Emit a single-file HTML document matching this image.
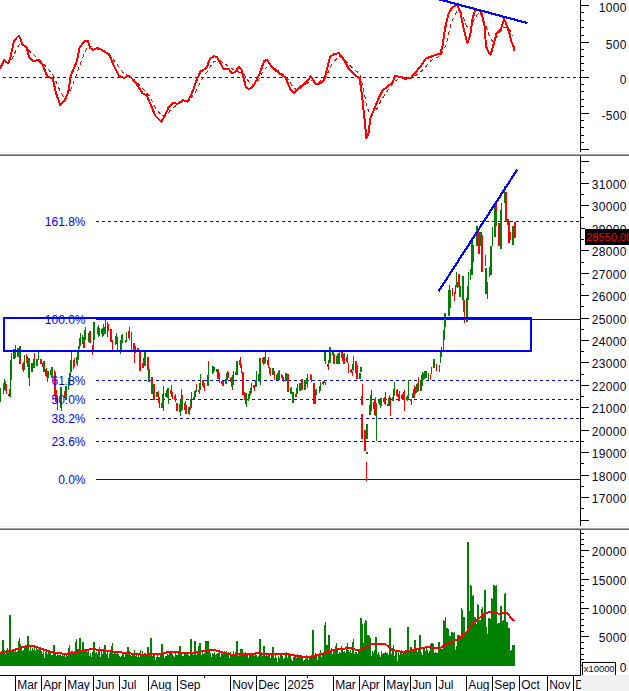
<!DOCTYPE html>
<html><head><meta charset="utf-8"><title>Chart</title>
<style>html,body{margin:0;padding:0;background:#fff;overflow:hidden}svg{display:block}</style>
</head><body>
<svg width="629" height="691" viewBox="0 0 629 691" font-family="'Liberation Sans', Arial, sans-serif">
<rect width="629" height="691" fill="#fff"/>
<!-- MACD panel -->
<line x1="3" y1="77.5" x2="580" y2="77.5" stroke="#0000ff" stroke-dasharray="3 3" shape-rendering="crispEdges"/>
<polyline points="11.7,60.0 14.7,53.3 17.2,47.7 20.0,44.0 24.0,46.0 30.4,51.8 36.0,56.9 42.6,62.4 47.6,68.5 52.7,74.6 55.2,79.7 57.8,85.7 60.0,90.8 63.0,96.0 66.0,97.5 71.3,88.2 77.5,71.7 84.7,52.0 88.9,45.8 95.0,48.0 109.5,54.0 116.8,64.4 124.0,73.7 128.0,75.8 133.3,79.0 141.5,87.2 149.8,96.5 156.0,109.0 162.2,116.0 166.3,115.0 172.5,107.8 180.8,102.7 189.0,100.6 195.3,92.3 201.5,80.0 207.7,70.6 213.9,61.3 220.0,60.3 228.4,66.5 236.6,71.7 242.8,72.7 249.0,82.0 253.0,85.0 257.0,82.3 263.0,71.5 269.0,64.4 276.0,69.2 285.8,76.3 293.0,87.0 297.7,90.6 304.9,84.7 312.0,79.9 319.0,82.3 326.3,76.3 332.3,63.2 339.4,56.0 345.4,60.8 352.6,68.0 359.7,73.9 363.3,88.2 366.9,107.3 370.4,114.5 375.2,112.0 381.2,100.2 388.3,89.4 395.5,81.0 399.8,77.5 409.3,78.2 416.5,75.1 423.6,69.2 430.8,60.8 440.3,56.0 446.3,44.1 451.0,23.8 457.0,10.7 461.8,13.1 466.5,26.2 470.0,28.6 474.9,17.9 479.7,11.9 484.4,21.5 489.2,35.8 492.8,41.7 497.5,35.8 503.5,27.4 508.3,27.4 513.0,35.8" fill="none" stroke="#ff0000" stroke-width="1" stroke-dasharray="4 3" shape-rendering="crispEdges"/>
<polyline points="0.0,68.6 4.1,60.3 8.3,63.4 10.7,56.2 14.0,40.7 19.0,35.5 22.7,44.8 26.5,46.9 29.0,57.2 33.0,60.9 38.2,60.3 42.4,64.4 47.5,76.8 52.7,78.3 55.8,92.3 60.0,104.7 65.0,99.6 68.2,92.3 70.7,75.8 76.5,62.4 79.6,47.9 83.7,41.7 87.8,40.7 90.0,47.9 93.0,50.0 97.0,47.9 103.4,50.6 109.5,55.1 113.7,65.5 118.9,75.8 124.0,77.9 129.0,75.4 135.3,82.0 142.6,93.4 146.7,95.4 150.8,104.7 155.0,115.5 161.2,121.7 164.3,117.0 168.4,107.8 173.0,103.0 177.7,103.7 182.9,100.2 188.0,101.6 192.2,92.3 196.3,81.0 200.4,71.7 206.6,68.0 209.7,59.3 213.9,56.2 217.0,57.2 223.8,69.2 228.4,68.6 232.0,73.3 235.6,71.7 239.0,66.5 241.8,70.6 245.9,87.2 249.0,89.2 253.6,85.9 259.5,73.9 264.3,60.8 267.2,60.1 272.7,68.0 278.6,72.7 285.3,77.5 290.5,89.4 294.0,93.5 300.0,87.0 306.0,82.3 310.8,76.3 315.6,84.0 320.4,83.5 324.4,79.9 327.5,66.8 329.9,57.2 333.5,54.4 338.7,53.0 343.0,58.4 349.0,69.2 353.7,73.9 359.7,78.7 362.0,95.4 364.5,119.2 366.4,138.3 368.5,133.6 370.4,118.0 374.0,109.7 378.8,97.8 382.4,90.6 388.3,85.9 392.6,82.3 395.0,76.3 401.0,76.8 404.5,78.7 410.5,78.2 415.3,72.7 421.2,65.6 426.0,58.4 430.8,56.8 435.5,54.9 440.3,53.7 442.7,45.3 445.0,28.6 448.7,13.1 452.2,7.6 457.0,4.8 460.6,13.1 464.2,31.0 467.3,42.9 470.1,35.8 472.5,19.0 474.9,10.7 479.7,10.0 482.0,14.0 484.0,24.0 485.0,28.0 485.8,46.0 488.0,51.0 490.5,55.0 493.3,45.3 496.4,33.4 501.1,28.6 504.2,19.0 507.1,26.2 509.5,33.4 511.4,41.7 513.5,46.5 514.2,51.3" fill="none" stroke="#ff0000" stroke-width="2" stroke-linejoin="round" shape-rendering="crispEdges"/>
<line x1="437.8" y1="-1" x2="527.4" y2="23.1" stroke="#0000ff" stroke-width="2.2" shape-rendering="crispEdges"/>
<!-- price panel -->
<g shape-rendering="crispEdges">
<line x1="96" y1="221.5" x2="580" y2="221.5" stroke="#0000ff" stroke-width="1" stroke-dasharray="3 3" shape-rendering="crispEdges"/>
<line x1="96" y1="319.5" x2="580" y2="319.5" stroke="#0000ff" stroke-width="1" shape-rendering="crispEdges"/>
<line x1="96" y1="380.5" x2="580" y2="380.5" stroke="#0000ff" stroke-width="1" stroke-dasharray="3 3" shape-rendering="crispEdges"/>
<line x1="96" y1="399.5" x2="580" y2="399.5" stroke="#0000ff" stroke-width="1" stroke-dasharray="3 3" shape-rendering="crispEdges"/>
<line x1="96" y1="418.5" x2="580" y2="418.5" stroke="#0000ff" stroke-width="1" stroke-dasharray="3 3" shape-rendering="crispEdges"/>
<line x1="96" y1="441.5" x2="580" y2="441.5" stroke="#0000ff" stroke-width="1" stroke-dasharray="3 3" shape-rendering="crispEdges"/>
<line x1="96" y1="479.5" x2="580" y2="479.5" stroke="#0000ff" stroke-width="1" shape-rendering="crispEdges"/>
</g>
<g shape-rendering="crispEdges">
<rect x="0" y="388" width="1" height="14" fill="#008000"/>
<rect x="3" y="383" width="1" height="11" fill="#008000"/>
<rect x="4" y="379" width="1" height="11" fill="#008000"/>
<rect x="5" y="381" width="1" height="10" fill="#008000"/>
<rect x="6" y="384" width="1" height="10" fill="#ff0000"/>
<rect x="8" y="394" width="1" height="2" fill="#ff0000"/>
<rect x="9" y="389" width="2" height="8" fill="#008000"/>
<rect x="10" y="360" width="1" height="29" fill="#008000"/>
<rect x="11" y="353" width="1" height="27" fill="#008000"/>
<rect x="13" y="349" width="2" height="10" fill="#008000"/>
<rect x="15" y="345" width="1" height="13" fill="#ff0000"/>
<rect x="17" y="348" width="2" height="9" fill="#008000"/>
<rect x="19" y="346" width="2" height="12" fill="#008000"/>
<rect x="19" y="358" width="2" height="6" fill="#ff0000"/>
<rect x="22" y="364" width="1" height="6" fill="#ff0000"/>
<rect x="23" y="362" width="1" height="10" fill="#008000"/>
<rect x="24" y="355" width="1" height="15" fill="#008000"/>
<rect x="26" y="354" width="1" height="9" fill="#ff0000"/>
<rect x="27" y="356" width="1" height="11" fill="#ff0000"/>
<rect x="28" y="358" width="2" height="20" fill="#008000"/>
<rect x="29" y="378" width="1" height="8" fill="#ff0000"/>
<rect x="31" y="363" width="2" height="9" fill="#008000"/>
<rect x="33" y="359" width="2" height="9" fill="#008000"/>
<rect x="34" y="353" width="1" height="6" fill="#ff0000"/>
<rect x="36" y="359" width="2" height="7" fill="#008000"/>
<rect x="38" y="351" width="1" height="9" fill="#008000"/>
<rect x="37" y="359" width="1" height="2" fill="#ff0000"/>
<rect x="40" y="359" width="2" height="5" fill="#ff0000"/>
<rect x="42" y="363" width="1" height="4" fill="#ff0000"/>
<rect x="43" y="361" width="2" height="11" fill="#008000"/>
<rect x="45" y="369" width="1" height="7" fill="#008000"/>
<rect x="46" y="368" width="1" height="9" fill="#ff0000"/>
<rect x="47" y="371" width="1" height="11" fill="#ff0000"/>
<rect x="48" y="371" width="1" height="7" fill="#008000"/>
<rect x="50" y="370" width="1" height="5" fill="#008000"/>
<rect x="51" y="367" width="2" height="11" fill="#008000"/>
<rect x="54" y="370" width="1" height="25" fill="#ff0000"/>
<rect x="55" y="372" width="1" height="30" fill="#ff0000"/>
<rect x="56" y="390" width="1" height="12" fill="#ff0000"/>
<rect x="57" y="396" width="1" height="14" fill="#ff0000"/>
<rect x="60" y="387" width="2" height="21" fill="#008000"/>
<rect x="61" y="405" width="1" height="6" fill="#ff0000"/>
<rect x="64" y="391" width="1" height="7" fill="#ff0000"/>
<rect x="65" y="386" width="2" height="14" fill="#008000"/>
<rect x="68" y="378" width="1" height="12" fill="#008000"/>
<rect x="69" y="373" width="1" height="13" fill="#008000"/>
<rect x="70" y="360" width="1" height="16" fill="#008000"/>
<rect x="71" y="352" width="1" height="20" fill="#008000"/>
<rect x="73" y="360" width="1" height="9" fill="#ff0000"/>
<rect x="74" y="358" width="1" height="9" fill="#ff0000"/>
<rect x="76" y="357" width="1" height="7" fill="#008000"/>
<rect x="77" y="350" width="1" height="16" fill="#008000"/>
<rect x="78" y="346" width="1" height="14" fill="#008000"/>
<rect x="79" y="338" width="1" height="11" fill="#008000"/>
<rect x="80" y="333" width="1" height="13" fill="#008000"/>
<rect x="82" y="335" width="1" height="9" fill="#008000"/>
<rect x="83" y="337" width="2" height="11" fill="#ff0000"/>
<rect x="84" y="330" width="1" height="12" fill="#008000"/>
<rect x="85" y="327" width="1" height="13" fill="#008000"/>
<rect x="88" y="333" width="1" height="9" fill="#008000"/>
<rect x="89" y="331" width="2" height="12" fill="#ff0000"/>
<rect x="93" y="322" width="1" height="28" fill="#008000"/>
<rect x="94" y="322" width="1" height="18" fill="#008000"/>
<rect x="92" y="345" width="1" height="10" fill="#ff0000"/>
<rect x="97" y="327" width="1" height="7" fill="#ff0000"/>
<rect x="98" y="325" width="1" height="12" fill="#008000"/>
<rect x="99" y="328" width="1" height="8" fill="#008000"/>
<rect x="101" y="329" width="2" height="5" fill="#008000"/>
<rect x="102" y="328" width="1" height="9" fill="#008000"/>
<rect x="103" y="324" width="1" height="12" fill="#008000"/>
<rect x="104" y="327" width="1" height="7" fill="#008000"/>
<rect x="105" y="320" width="1" height="14" fill="#ff0000"/>
<rect x="107" y="322" width="1" height="15" fill="#008000"/>
<rect x="108" y="324" width="1" height="7" fill="#ff0000"/>
<rect x="110" y="329" width="2" height="13" fill="#ff0000"/>
<rect x="112" y="340" width="1" height="10" fill="#ff0000"/>
<rect x="115" y="336" width="1" height="9" fill="#ff0000"/>
<rect x="116" y="333" width="1" height="11" fill="#008000"/>
<rect x="117" y="337" width="1" height="13" fill="#ff0000"/>
<rect x="120" y="340" width="1" height="14" fill="#008000"/>
<rect x="121" y="335" width="1" height="15" fill="#008000"/>
<rect x="122" y="334" width="1" height="9" fill="#008000"/>
<rect x="125" y="340" width="1" height="3" fill="#ff0000"/>
<rect x="126" y="332" width="1" height="10" fill="#008000"/>
<rect x="128" y="331" width="1" height="7" fill="#ff0000"/>
<rect x="129" y="327" width="1" height="13" fill="#ff0000"/>
<rect x="131" y="332" width="1" height="18" fill="#ff0000"/>
<rect x="133" y="343" width="1" height="7" fill="#ff0000"/>
<rect x="134" y="343" width="1" height="20" fill="#ff0000"/>
<rect x="135" y="346" width="1" height="7" fill="#008000"/>
<rect x="137" y="348" width="2" height="3" fill="#ff0000"/>
<rect x="139" y="351" width="2" height="20" fill="#ff0000"/>
<rect x="142" y="363" width="1" height="5" fill="#ff0000"/>
<rect x="143" y="358" width="1" height="10" fill="#008000"/>
<rect x="144" y="352" width="2" height="14" fill="#008000"/>
<rect x="147" y="357" width="2" height="13" fill="#ff0000"/>
<rect x="148" y="369" width="2" height="13" fill="#008000"/>
<rect x="151" y="377" width="2" height="17" fill="#ff0000"/>
<rect x="152" y="384" width="1" height="9" fill="#008000"/>
<rect x="153" y="384" width="2" height="16" fill="#ff0000"/>
<rect x="156" y="392" width="2" height="5" fill="#008000"/>
<rect x="158" y="391" width="1" height="12" fill="#ff0000"/>
<rect x="159" y="397" width="1" height="11" fill="#ff0000"/>
<rect x="161" y="403" width="1" height="5" fill="#ff0000"/>
<rect x="162" y="394" width="1" height="14" fill="#008000"/>
<rect x="163" y="386" width="1" height="25" fill="#008000"/>
<rect x="165" y="393" width="1" height="4" fill="#ff0000"/>
<rect x="166" y="390" width="1" height="7" fill="#008000"/>
<rect x="167" y="388" width="1" height="10" fill="#008000"/>
<rect x="168" y="388" width="1" height="16" fill="#008000"/>
<rect x="170" y="390" width="1" height="4" fill="#ff0000"/>
<rect x="171" y="385" width="1" height="12" fill="#ff0000"/>
<rect x="172" y="392" width="1" height="7" fill="#ff0000"/>
<rect x="174" y="396" width="1" height="4" fill="#ff0000"/>
<rect x="175" y="394" width="1" height="8" fill="#ff0000"/>
<rect x="176" y="403" width="2" height="8" fill="#ff0000"/>
<rect x="179" y="404" width="1" height="8" fill="#008000"/>
<rect x="180" y="400" width="1" height="16" fill="#008000"/>
<rect x="181" y="389" width="1" height="22" fill="#008000"/>
<rect x="182" y="397" width="1" height="13" fill="#008000"/>
<rect x="182" y="395" width="1" height="4" fill="#ff0000"/>
<rect x="184" y="403" width="1" height="7" fill="#ff0000"/>
<rect x="185" y="401" width="1" height="13" fill="#ff0000"/>
<rect x="186" y="405" width="1" height="9" fill="#ff0000"/>
<rect x="188" y="407" width="1" height="7" fill="#008000"/>
<rect x="189" y="407" width="1" height="8" fill="#008000"/>
<rect x="190" y="399" width="1" height="6" fill="#008000"/>
<rect x="190" y="405" width="1" height="5" fill="#ff0000"/>
<rect x="191" y="392" width="1" height="16" fill="#008000"/>
<rect x="193" y="397" width="1" height="3" fill="#008000"/>
<rect x="194" y="391" width="1" height="8" fill="#008000"/>
<rect x="195" y="390" width="1" height="7" fill="#008000"/>
<rect x="196" y="384" width="1" height="5" fill="#ff0000"/>
<rect x="196" y="388" width="1" height="4" fill="#008000"/>
<rect x="198" y="390" width="1" height="2" fill="#ff0000"/>
<rect x="199" y="383" width="1" height="7" fill="#008000"/>
<rect x="199" y="390" width="1" height="4" fill="#ff0000"/>
<rect x="200" y="374" width="1" height="16" fill="#008000"/>
<rect x="202" y="380" width="1" height="6" fill="#ff0000"/>
<rect x="203" y="380" width="1" height="8" fill="#ff0000"/>
<rect x="204" y="383" width="1" height="8" fill="#ff0000"/>
<rect x="207" y="375" width="2" height="11" fill="#008000"/>
<rect x="208" y="365" width="1" height="10" fill="#008000"/>
<rect x="208" y="361" width="1" height="4" fill="#ff0000"/>
<rect x="212" y="366" width="1" height="8" fill="#008000"/>
<rect x="213" y="366" width="1" height="6" fill="#008000"/>
<rect x="214" y="367" width="1" height="4" fill="#008000"/>
<rect x="213" y="371" width="1" height="2" fill="#ff0000"/>
<rect x="216" y="369" width="1" height="3" fill="#008000"/>
<rect x="217" y="369" width="1" height="10" fill="#008000"/>
<rect x="218" y="369" width="1" height="10" fill="#ff0000"/>
<rect x="219" y="373" width="1" height="10" fill="#ff0000"/>
<rect x="221" y="381" width="1" height="3" fill="#ff0000"/>
<rect x="222" y="381" width="2" height="5" fill="#ff0000"/>
<rect x="225" y="379" width="2" height="5" fill="#008000"/>
<rect x="226" y="373" width="1" height="7" fill="#008000"/>
<rect x="227" y="371" width="1" height="9" fill="#008000"/>
<rect x="228" y="372" width="1" height="6" fill="#ff0000"/>
<rect x="230" y="378" width="1" height="4" fill="#ff0000"/>
<rect x="231" y="377" width="1" height="10" fill="#ff0000"/>
<rect x="232" y="375" width="1" height="15" fill="#008000"/>
<rect x="233" y="371" width="1" height="14" fill="#008000"/>
<rect x="232" y="388" width="1" height="2" fill="#ff0000"/>
<rect x="235" y="372" width="1" height="3" fill="#008000"/>
<rect x="236" y="361" width="2" height="14" fill="#008000"/>
<rect x="239" y="360" width="1" height="5" fill="#ff0000"/>
<rect x="240" y="357" width="1" height="11" fill="#ff0000"/>
<rect x="241" y="364" width="1" height="9" fill="#ff0000"/>
<rect x="242" y="372" width="2" height="23" fill="#ff0000"/>
<rect x="244" y="392" width="1" height="8" fill="#ff0000"/>
<rect x="245" y="393" width="1" height="5" fill="#ff0000"/>
<rect x="245" y="398" width="1" height="6" fill="#008000"/>
<rect x="246" y="393" width="1" height="14" fill="#008000"/>
<rect x="248" y="394" width="1" height="7" fill="#008000"/>
<rect x="249" y="391" width="1" height="8" fill="#008000"/>
<rect x="250" y="388" width="1" height="7" fill="#008000"/>
<rect x="251" y="383" width="1" height="10" fill="#008000"/>
<rect x="253" y="385" width="1" height="3" fill="#ff0000"/>
<rect x="254" y="385" width="1" height="6" fill="#ff0000"/>
<rect x="255" y="380" width="1" height="7" fill="#008000"/>
<rect x="256" y="371" width="1" height="16" fill="#008000"/>
<rect x="258" y="374" width="1" height="6" fill="#008000"/>
<rect x="259" y="358" width="1" height="24" fill="#008000"/>
<rect x="260" y="358" width="1" height="27" fill="#008000"/>
<rect x="262" y="358" width="1" height="5" fill="#ff0000"/>
<rect x="263" y="357" width="1" height="8" fill="#ff0000"/>
<rect x="264" y="357" width="1" height="7" fill="#008000"/>
<rect x="265" y="352" width="1" height="11" fill="#008000"/>
<rect x="267" y="360" width="1" height="5" fill="#ff0000"/>
<rect x="268" y="357" width="1" height="11" fill="#ff0000"/>
<rect x="269" y="367" width="1" height="7" fill="#ff0000"/>
<rect x="270" y="368" width="1" height="8" fill="#ff0000"/>
<rect x="272" y="368" width="2" height="7" fill="#008000"/>
<rect x="274" y="371" width="1" height="9" fill="#ff0000"/>
<rect x="276" y="375" width="1" height="5" fill="#008000"/>
<rect x="277" y="373" width="1" height="7" fill="#008000"/>
<rect x="278" y="371" width="2" height="9" fill="#008000"/>
<rect x="279" y="370" width="1" height="2" fill="#ff0000"/>
<rect x="281" y="374" width="1" height="4" fill="#ff0000"/>
<rect x="282" y="375" width="1" height="5" fill="#ff0000"/>
<rect x="283" y="377" width="1" height="5" fill="#ff0000"/>
<rect x="285" y="373" width="2" height="8" fill="#008000"/>
<rect x="287" y="374" width="2" height="18" fill="#ff0000"/>
<rect x="290" y="388" width="2" height="6" fill="#008000"/>
<rect x="291" y="387" width="1" height="4" fill="#ff0000"/>
<rect x="292" y="392" width="2" height="11" fill="#008000"/>
<rect x="295" y="394" width="2" height="3" fill="#ff0000"/>
<rect x="296" y="388" width="1" height="7" fill="#008000"/>
<rect x="297" y="384" width="1" height="10" fill="#008000"/>
<rect x="299" y="383" width="2" height="8" fill="#008000"/>
<rect x="301" y="379" width="2" height="11" fill="#ff0000"/>
<rect x="304" y="380" width="2" height="10" fill="#008000"/>
<rect x="306" y="378" width="1" height="6" fill="#008000"/>
<rect x="307" y="374" width="1" height="10" fill="#008000"/>
<rect x="307" y="384" width="1" height="4" fill="#ff0000"/>
<rect x="310" y="374" width="1" height="6" fill="#ff0000"/>
<rect x="311" y="375" width="1" height="7" fill="#ff0000"/>
<rect x="313" y="383" width="2" height="21" fill="#ff0000"/>
<rect x="315" y="390" width="1" height="14" fill="#008000"/>
<rect x="316" y="389" width="1" height="6" fill="#008000"/>
<rect x="319" y="386" width="1" height="7" fill="#008000"/>
<rect x="320" y="382" width="1" height="9" fill="#008000"/>
<rect x="322" y="382" width="1" height="2" fill="#ff0000"/>
<rect x="323" y="381" width="1" height="4" fill="#ff0000"/>
<rect x="324" y="381" width="1" height="2" fill="#008000"/>
<rect x="325" y="382" width="1" height="3" fill="#ff0000"/>
<rect x="324" y="352" width="1" height="9" fill="#008000"/>
<rect x="325" y="352" width="1" height="12" fill="#008000"/>
<rect x="327" y="364" width="1" height="3" fill="#ff0000"/>
<rect x="328" y="364" width="1" height="6" fill="#ff0000"/>
<rect x="328" y="360" width="1" height="4" fill="#008000"/>
<rect x="329" y="347" width="2" height="16" fill="#008000"/>
<rect x="332" y="352" width="2" height="3" fill="#008000"/>
<rect x="333" y="354" width="2" height="10" fill="#ff0000"/>
<rect x="336" y="356" width="1" height="8" fill="#008000"/>
<rect x="337" y="354" width="1" height="10" fill="#008000"/>
<rect x="338" y="353" width="1" height="11" fill="#008000"/>
<rect x="339" y="352" width="1" height="12" fill="#008000"/>
<rect x="341" y="352" width="1" height="6" fill="#ff0000"/>
<rect x="342" y="352" width="1" height="9" fill="#ff0000"/>
<rect x="343" y="354" width="2" height="10" fill="#ff0000"/>
<rect x="344" y="353" width="1" height="5" fill="#008000"/>
<rect x="346" y="357" width="1" height="5" fill="#ff0000"/>
<rect x="347" y="354" width="1" height="9" fill="#ff0000"/>
<rect x="348" y="363" width="1" height="10" fill="#ff0000"/>
<rect x="350" y="370" width="1" height="2" fill="#ff0000"/>
<rect x="351" y="369" width="1" height="4" fill="#ff0000"/>
<rect x="352" y="371" width="1" height="5" fill="#ff0000"/>
<rect x="352" y="364" width="1" height="6" fill="#008000"/>
<rect x="353" y="356" width="1" height="15" fill="#008000"/>
<rect x="355" y="361" width="2" height="12" fill="#ff0000"/>
<rect x="356" y="365" width="2" height="14" fill="#ff0000"/>
<rect x="359" y="373" width="2" height="6" fill="#008000"/>
<rect x="360" y="367" width="2" height="5" fill="#008000"/>
<rect x="362" y="384" width="1" height="12" fill="#ff0000"/>
<rect x="361" y="396" width="2" height="9" fill="#ff0000"/>
<rect x="361" y="414" width="2" height="25" fill="#ff0000"/>
<rect x="364" y="430" width="2" height="21" fill="#ff0000"/>
<rect x="366" y="424" width="2" height="15" fill="#008000"/>
<rect x="366" y="452" width="2" height="2" fill="#008000"/>
<rect x="366" y="462" width="1" height="19" fill="#ff0000"/>
<rect x="369" y="405" width="1" height="10" fill="#008000"/>
<rect x="370" y="395" width="1" height="20" fill="#008000"/>
<rect x="371" y="390" width="1" height="21" fill="#008000"/>
<rect x="373" y="402" width="1" height="7" fill="#ff0000"/>
<rect x="374" y="399" width="1" height="16" fill="#ff0000"/>
<rect x="375" y="397" width="1" height="13" fill="#ff0000"/>
<rect x="376" y="403" width="1" height="7" fill="#ff0000"/>
<rect x="375" y="410" width="1" height="6" fill="#008000"/>
<rect x="376" y="410" width="1" height="31" fill="#008000"/>
<rect x="378" y="400" width="1" height="3" fill="#008000"/>
<rect x="379" y="399" width="1" height="6" fill="#008000"/>
<rect x="380" y="398" width="1" height="10" fill="#008000"/>
<rect x="381" y="398" width="1" height="8" fill="#008000"/>
<rect x="383" y="398" width="1" height="4" fill="#ff0000"/>
<rect x="384" y="397" width="1" height="7" fill="#ff0000"/>
<rect x="385" y="392" width="1" height="6" fill="#ff0000"/>
<rect x="385" y="398" width="1" height="7" fill="#008000"/>
<rect x="387" y="404" width="2" height="2" fill="#ff0000"/>
<rect x="388" y="398" width="1" height="8" fill="#008000"/>
<rect x="389" y="395" width="1" height="11" fill="#008000"/>
<rect x="390" y="397" width="1" height="19" fill="#ff0000"/>
<rect x="392" y="397" width="1" height="4" fill="#008000"/>
<rect x="393" y="389" width="1" height="12" fill="#008000"/>
<rect x="394" y="382" width="1" height="14" fill="#008000"/>
<rect x="396" y="390" width="1" height="6" fill="#ff0000"/>
<rect x="397" y="389" width="1" height="8" fill="#ff0000"/>
<rect x="398" y="394" width="1" height="7" fill="#ff0000"/>
<rect x="399" y="394" width="1" height="7" fill="#ff0000"/>
<rect x="399" y="391" width="1" height="8" fill="#008000"/>
<rect x="401" y="395" width="1" height="4" fill="#ff0000"/>
<rect x="402" y="394" width="1" height="6" fill="#ff0000"/>
<rect x="403" y="392" width="1" height="8" fill="#ff0000"/>
<rect x="404" y="390" width="1" height="21" fill="#ff0000"/>
<rect x="406" y="397" width="1" height="3" fill="#008000"/>
<rect x="407" y="395" width="1" height="6" fill="#008000"/>
<rect x="408" y="380" width="1" height="20" fill="#008000"/>
<rect x="410" y="399" width="1" height="2" fill="#ff0000"/>
<rect x="411" y="399" width="1" height="6" fill="#ff0000"/>
<rect x="412" y="393" width="1" height="5" fill="#008000"/>
<rect x="413" y="389" width="1" height="9" fill="#008000"/>
<rect x="414" y="385" width="1" height="13" fill="#ff0000"/>
<rect x="415" y="387" width="1" height="7" fill="#008000"/>
<rect x="416" y="384" width="1" height="9" fill="#008000"/>
<rect x="417" y="383" width="1" height="9" fill="#008000"/>
<rect x="418" y="377" width="1" height="14" fill="#ff0000"/>
<rect x="420" y="380" width="1" height="11" fill="#008000"/>
<rect x="421" y="375" width="1" height="16" fill="#008000"/>
<rect x="422" y="372" width="1" height="14" fill="#008000"/>
<rect x="423" y="373" width="1" height="7" fill="#008000"/>
<rect x="424" y="371" width="1" height="8" fill="#008000"/>
<rect x="425" y="371" width="2" height="7" fill="#008000"/>
<rect x="428" y="373" width="1" height="7" fill="#008000"/>
<rect x="430" y="374" width="1" height="6" fill="#ff0000"/>
<rect x="431" y="367" width="1" height="7" fill="#008000"/>
<rect x="433" y="359" width="2" height="9" fill="#008000"/>
<rect x="436" y="364" width="1" height="7" fill="#ff0000"/>
<rect x="439" y="365" width="1" height="7" fill="#008000"/>
<rect x="440" y="352" width="1" height="11" fill="#008000"/>
<rect x="441" y="347" width="1" height="10" fill="#008000"/>
<rect x="443" y="330" width="1" height="20" fill="#008000"/>
<rect x="444" y="313" width="1" height="27" fill="#008000"/>
<rect x="445" y="313" width="1" height="14" fill="#008000"/>
<rect x="448" y="290" width="2" height="26" fill="#008000"/>
<rect x="450" y="290" width="1" height="18" fill="#008000"/>
<rect x="449" y="285" width="1" height="7" fill="#ff0000"/>
<rect x="452" y="288" width="1" height="8" fill="#ff0000"/>
<rect x="454" y="292" width="1" height="9" fill="#ff0000"/>
<rect x="455" y="285" width="1" height="9" fill="#008000"/>
<rect x="456" y="272" width="1" height="15" fill="#008000"/>
<rect x="457" y="282" width="1" height="6" fill="#ff0000"/>
<rect x="458" y="274" width="2" height="13" fill="#ff0000"/>
<rect x="459" y="286" width="2" height="11" fill="#008000"/>
<rect x="463" y="300" width="2" height="12" fill="#ff0000"/>
<rect x="464" y="312" width="1" height="11" fill="#ff0000"/>
<rect x="466" y="298" width="2" height="24" fill="#008000"/>
<rect x="462" y="276" width="2" height="24" fill="#008000"/>
<rect x="463" y="282" width="1" height="18" fill="#ff0000"/>
<rect x="467" y="286" width="2" height="14" fill="#008000"/>
<rect x="468" y="272" width="1" height="14" fill="#008000"/>
<rect x="470" y="269" width="1" height="11" fill="#008000"/>
<rect x="471" y="240" width="2" height="35" fill="#008000"/>
<rect x="473" y="245" width="1" height="17" fill="#008000"/>
<rect x="473" y="254" width="1" height="5" fill="#ff0000"/>
<rect x="476" y="226" width="2" height="20" fill="#008000"/>
<rect x="478" y="232" width="2" height="22" fill="#ff0000"/>
<rect x="480" y="232" width="1" height="14" fill="#008000"/>
<rect x="481" y="232" width="1" height="5" fill="#008000"/>
<rect x="481" y="235" width="2" height="37" fill="#ff0000"/>
<rect x="485" y="255" width="1" height="11" fill="#ff0000"/>
<rect x="485" y="268" width="2" height="26" fill="#008000"/>
<rect x="487" y="282" width="1" height="12" fill="#008000"/>
<rect x="487" y="294" width="1" height="5" fill="#ff0000"/>
<rect x="489" y="267" width="1" height="10" fill="#ff0000"/>
<rect x="490" y="246" width="2" height="29" fill="#008000"/>
<rect x="492" y="227" width="1" height="19" fill="#008000"/>
<rect x="494" y="204" width="2" height="33" fill="#008000"/>
<rect x="496" y="204" width="1" height="7" fill="#ff0000"/>
<rect x="496" y="211" width="1" height="15" fill="#008000"/>
<rect x="498" y="223" width="2" height="23" fill="#ff0000"/>
<rect x="500" y="210" width="2" height="39" fill="#008000"/>
<rect x="501" y="203" width="1" height="9" fill="#008000"/>
<rect x="504" y="186" width="1" height="17" fill="#008000"/>
<rect x="505" y="192" width="2" height="30" fill="#ff0000"/>
<rect x="507" y="219" width="2" height="6" fill="#008000"/>
<rect x="508" y="221" width="2" height="22" fill="#ff0000"/>
<rect x="510" y="232" width="1" height="8" fill="#ff0000"/>
<rect x="512" y="226" width="2" height="19" fill="#008000"/>
<rect x="514" y="222" width="2" height="16" fill="#ff0000"/>
</g>
<rect x="4" y="318" width="527" height="33" fill="none" stroke="#0000ff" stroke-width="2" shape-rendering="crispEdges"/>
<line x1="438.7" y1="291.2" x2="517.3" y2="169.5" stroke="#0000ff" stroke-width="2.2" shape-rendering="crispEdges"/>
<text x="85.5" y="226.0" text-anchor="end" font-size="12" fill="#0000ff">161.8%</text>
<text x="85.5" y="323.8" text-anchor="end" font-size="12" fill="#0000ff">100.0%</text>
<text x="85.5" y="385.0" text-anchor="end" font-size="12" fill="#0000ff">61.8%</text>
<text x="85.5" y="404.1" text-anchor="end" font-size="12" fill="#0000ff">50.0%</text>
<text x="85.5" y="423.1" text-anchor="end" font-size="12" fill="#0000ff">38.2%</text>
<text x="85.5" y="446.2" text-anchor="end" font-size="12" fill="#0000ff">23.6%</text>
<text x="85.5" y="484.1" text-anchor="end" font-size="12" fill="#0000ff">0.0%</text>
<!-- volume -->
<g shape-rendering="crispEdges">
<path d="M0 666V652h1V666zM1 666V651h1V666zM2 666V640h1V666zM3 666V640h1V666zM4 666V650h1V666zM5 666V654h1V666zM6 666V650h1V666zM7 666V648h1V666zM8 666V650h1V666zM9 666V615h1V666zM10 666V615h1V666zM11 666V650h1V666zM12 666V650h1V666zM13 666V649h1V666zM14 666V652h1V666zM15 666V650h1V666zM16 666V652h1V666zM17 666V651h1V666zM18 666V641h1V666zM19 666V638h1V666zM20 666V644h1V666zM21 666V646h1V666zM22 666V651h1V666zM23 666V650h1V666zM24 666V646h1V666zM25 666V646h1V666zM26 666V647h1V666zM27 666V636h1V666zM28 666V636h1V666zM29 666V651h1V666zM30 666V646h1V666zM31 666V651h1V666zM32 666V648h1V666zM33 666V650h1V666zM34 666V645h1V666zM35 666V651h1V666zM36 666V647h1V666zM37 666V649h1V666zM38 666V650h1V666zM39 666V648h1V666zM40 666V649h1V666zM41 666V651h1V666zM42 666V654h1V666zM43 666V648h1V666zM44 666V658h1V666zM45 666V652h1V666zM46 666V650h1V666zM47 666V654h1V666zM48 666V652h1V666zM49 666V653h1V666zM50 666V652h1V666zM51 666V655h1V666zM52 666V655h1V666zM53 666V645h1V666zM54 666V645h1V666zM55 666V654h1V666zM56 666V656h1V666zM57 666V653h1V666zM58 666V655h1V666zM59 666V655h1V666zM60 666V653h1V666zM61 666V656h1V666zM62 666V653h1V666zM63 666V656h1V666zM64 666V654h1V666zM65 666V657h1V666zM66 666V655h1V666zM67 666V656h1V666zM68 666V648h1V666zM69 666V645h1V666zM70 666V653h1V666zM71 666V651h1V666zM72 666V651h1V666zM73 666V652h1V666zM74 666V651h1V666zM75 666V642h1V666zM76 666V639h1V666zM77 666V649h1V666zM78 666V649h1V666zM79 666V638h1V666zM80 666V638h1V666zM81 666V650h1V666zM82 666V642h1V666zM83 666V642h1V666zM84 666V651h1V666zM85 666V651h1V666zM86 666V651h1V666zM87 666V652h1V666zM88 666V650h1V666zM89 666V656h1V666zM90 666V653h1V666zM91 666V657h1V666zM92 666V652h1V666zM93 666V642h1V666zM94 666V642h1V666zM95 666V653h1V666zM96 666V652h1V666zM97 666V654h1V666zM98 666V650h1V666zM99 666V647h1V666zM100 666V657h1V666zM101 666V651h1V666zM102 666V654h1V666zM103 666V651h1V666zM104 666V645h1V666zM105 666V645h1V666zM106 666V654h1V666zM107 666V652h1V666zM108 666V658h1V666zM109 666V653h1V666zM110 666V652h1V666zM111 666V646h1V666zM112 666V643h1V666zM113 666V654h1V666zM114 666V651h1V666zM115 666V653h1V666zM116 666V654h1V666zM117 666V653h1V666zM118 666V654h1V666zM119 666V656h1V666zM120 666V657h1V666zM121 666V656h1V666zM122 666V653h1V666zM123 666V653h1V666zM124 666V657h1V666zM125 666V653h1V666zM126 666V652h1V666zM127 666V647h1V666zM128 666V647h1V666zM129 666V651h1V666zM130 666V655h1V666zM131 666V656h1V666zM132 666V654h1V666zM133 666V653h1V666zM134 666V650h1V666zM135 666V656h1V666zM136 666V653h1V666zM137 666V657h1V666zM138 666V655h1V666zM139 666V657h1V666zM140 666V650h1V666zM141 666V656h1V666zM142 666V651h1V666zM143 666V655h1V666zM144 666V653h1V666zM145 666V653h1V666zM146 666V654h1V666zM147 666V647h1V666zM148 666V647h1V666zM149 666V655h1V666zM150 666V638h1V666zM151 666V638h1V666zM152 666V656h1V666zM153 666V655h1V666zM154 666V653h1V666zM155 666V660h1V666zM156 666V657h1V666zM157 666V654h1V666zM158 666V657h1V666zM159 666V657h1V666zM160 666V655h1V666zM161 666V644h1V666zM162 666V644h1V666zM163 666V654h1V666zM164 666V658h1V666zM165 666V656h1V666zM166 666V656h1V666zM167 666V654h1V666zM168 666V655h1V666zM169 666V653h1V666zM170 666V653h1V666zM171 666V653h1V666zM172 666V654h1V666zM173 666V656h1V666zM174 666V657h1V666zM175 666V652h1V666zM176 666V655h1V666zM177 666V655h1V666zM178 666V653h1V666zM179 666V646h1V666zM180 666V646h1V666zM181 666V652h1V666zM182 666V656h1V666zM183 666V656h1V666zM184 666V654h1V666zM185 666V652h1V666zM186 666V654h1V666zM187 666V653h1V666zM188 666V655h1V666zM189 666V656h1V666zM190 666V639h1V666zM191 666V639h1V666zM192 666V653h1V666zM193 666V655h1V666zM194 666V641h1V666zM195 666V641h1V666zM196 666V655h1V666zM197 666V651h1V666zM198 666V646h1V666zM199 666V643h1V666zM200 666V643h1V666zM201 666V655h1V666zM202 666V651h1V666zM203 666V654h1V666zM204 666V653h1V666zM205 666V641h1V666zM206 666V641h1V666zM207 666V641h1V666zM208 666V641h1V666zM209 666V651h1V666zM210 666V653h1V666zM211 666V657h1V666zM212 666V653h1V666zM213 666V654h1V666zM214 666V652h1V666zM215 666V655h1V666zM216 666V654h1V666zM217 666V653h1V666zM218 666V653h1V666zM219 666V651h1V666zM220 666V657h1V666zM221 666V652h1V666zM222 666V654h1V666zM223 666V652h1V666zM224 666V651h1V666zM225 666V652h1V666zM226 666V651h1V666zM227 666V655h1V666zM228 666V652h1V666zM229 666V658h1V666zM230 666V652h1V666zM231 666V655h1V666zM232 666V656h1V666zM233 666V651h1V666zM234 666V655h1V666zM235 666V652h1V666zM236 666V641h1V666zM237 666V641h1V666zM238 666V656h1V666zM239 666V653h1V666zM240 666V649h1V666zM241 666V649h1V666zM242 666V649h1V666zM243 666V655h1V666zM244 666V653h1V666zM245 666V652h1V666zM246 666V653h1V666zM247 666V653h1V666zM248 666V658h1V666zM249 666V654h1V666zM250 666V653h1V666zM251 666V655h1V666zM252 666V655h1V666zM253 666V654h1V666zM254 666V656h1V666zM255 666V653h1V666zM256 666V655h1V666zM257 666V657h1V666zM258 666V656h1V666zM259 666V639h1V666zM260 666V639h1V666zM261 666V653h1V666zM262 666V656h1V666zM263 666V646h1V666zM264 666V646h1V666zM265 666V656h1V666zM266 666V654h1V666zM267 666V656h1V666zM268 666V653h1V666zM269 666V654h1V666zM270 666V658h1V666zM271 666V655h1V666zM272 666V647h1V666zM273 666V647h1V666zM274 666V658h1V666zM275 666V655h1V666zM276 666V658h1V666zM277 666V662h1V666zM278 666V656h1V666zM279 666V658h1V666zM280 666V654h1V666zM281 666V655h1V666zM282 666V656h1V666zM283 666V659h1V666zM284 666V658h1V666zM285 666V654h1V666zM286 666V652h1V666zM287 666V658h1V666zM288 666V655h1V666zM289 666V656h1V666zM290 666V655h1V666zM291 666V659h1V666zM292 666V661h1V666zM293 666V657h1V666zM294 666V657h1V666zM295 666V656h1V666zM296 666V658h1V666zM297 666V654h1V666zM298 666V656h1V666zM299 666V657h1V666zM300 666V655h1V666zM301 666V655h1V666zM302 666V658h1V666zM303 666V661h1V666zM304 666V660h1V666zM305 666V659h1V666zM306 666V655h1V666zM307 666V658h1V666zM308 666V660h1V666zM309 666V657h1V666zM310 666V657h1V666zM311 666V657h1V666zM312 666V630h1V666zM313 666V630h1V666zM314 666V657h1V666zM315 666V653h1V666zM316 666V654h1V666zM317 666V660h1V666zM318 666V655h1V666zM319 666V653h1V666zM320 666V650h1V666zM321 666V657h1V666zM322 666V653h1V666zM323 666V654h1V666zM324 666V625h1V666zM325 666V622h1V666zM326 666V645h1V666zM327 666V645h1V666zM328 666V635h1V666zM329 666V635h1V666zM330 666V651h1V666zM331 666V648h1V666zM332 666V654h1V666zM333 666V650h1V666zM334 666V651h1V666zM335 666V646h1V666zM336 666V643h1V666zM337 666V650h1V666zM338 666V654h1V666zM339 666V652h1V666zM340 666V653h1V666zM341 666V646h1V666zM342 666V649h1V666zM343 666V652h1V666zM344 666V651h1V666zM345 666V653h1V666zM346 666V646h1V666zM347 666V643h1V666zM348 666V650h1V666zM349 666V652h1V666zM350 666V650h1V666zM351 666V653h1V666zM352 666V642h1V666zM353 666V639h1V666zM354 666V654h1V666zM355 666V652h1V666zM356 666V652h1V666zM357 666V654h1V666zM358 666V649h1V666zM359 666V651h1V666zM360 666V618h1V666zM361 666V618h1V666zM362 666V624h1V666zM363 666V643h1V666zM364 666V623h1V666zM365 666V620h1V666zM366 666V621h1V666zM367 666V635h1V666zM368 666V635h1V666zM369 666V636h1V666zM370 666V638h1V666zM371 666V656h1V666zM372 666V651h1V666zM373 666V653h1V666zM374 666V650h1V666zM375 666V637h1V666zM376 666V637h1V666zM377 666V654h1V666zM378 666V652h1V666zM379 666V655h1V666zM380 666V657h1V666zM381 666V651h1V666zM382 666V654h1V666zM383 666V653h1V666zM384 666V653h1V666zM385 666V652h1V666zM386 666V653h1V666zM387 666V653h1V666zM388 666V655h1V666zM389 666V628h1V666zM390 666V628h1V666zM391 666V654h1V666zM392 666V648h1V666zM393 666V645h1V666zM394 666V656h1V666zM395 666V652h1V666zM396 666V652h1V666zM397 666V661h1V666zM398 666V651h1V666zM399 666V655h1V666zM400 666V653h1V666zM401 666V650h1V666zM402 666V654h1V666zM403 666V653h1V666zM404 666V652h1V666zM405 666V652h1V666zM406 666V652h1V666zM407 666V627h1V666zM408 666V627h1V666zM409 666V652h1V666zM410 666V647h1V666zM411 666V647h1V666zM412 666V651h1V666zM413 666V651h1V666zM414 666V640h1V666zM415 666V640h1V666zM416 666V649h1V666zM417 666V652h1V666zM418 666V649h1V666zM419 666V635h1V666zM420 666V635h1V666zM421 666V653h1V666zM422 666V655h1V666zM423 666V648h1V666zM424 666V647h1V666zM425 666V651h1V666zM426 666V648h1V666zM427 666V650h1V666zM428 666V653h1V666zM429 666V651h1V666zM430 666V644h1V666zM431 666V643h1V666zM432 666V643h1V666zM433 666V644h1V666zM434 666V653h1V666zM435 666V652h1V666zM436 666V653h1V666zM437 666V653h1V666zM438 666V642h1V666zM439 666V642h1V666zM440 666V649h1V666zM441 666V649h1V666zM442 666V649h1V666zM443 666V620h1V666zM444 666V621h1V666zM445 666V617h1V666zM446 666V628h1V666zM447 666V628h1V666zM448 666V629h1V666zM449 666V636h1V666zM450 666V636h1V666zM451 666V632h1V666zM452 666V632h1V666zM453 666V633h1V666zM454 666V632h1V666zM455 666V650h1V666zM456 666V646h1V666zM457 666V635h1V666zM458 666V635h1V666zM459 666V635h1V666zM460 666V636h1V666zM461 666V608h1V666zM462 666V610h1V666zM463 666V617h1V666zM464 666V617h1V666zM465 666V632h1V666zM466 666V633h1V666zM467 666V542h1V666zM468 666V542h1V666zM469 666V611h1V666zM470 666V585h1V666zM471 666V586h1V666zM472 666V596h1V666zM473 666V595h1V666zM474 666V617h1V666zM475 666V617h1V666zM476 666V624h1V666zM477 666V604h1V666zM478 666V605h1V666zM479 666V620h1V666zM480 666V620h1V666zM481 666V609h1V666zM482 666V607h1V666zM483 666V616h1V666zM484 666V590h1V666zM485 666V590h1V666zM486 666V627h1V666zM487 666V634h1V666zM488 666V618h1V666zM489 666V618h1V666zM490 666V619h1V666zM491 666V598h1V666zM492 666V599h1V666zM493 666V585h1V666zM494 666V585h1V666zM495 666V586h1V666zM496 666V585h1V666zM497 666V624h1V666zM498 666V623h1V666zM499 666V623h1V666zM500 666V606h1V666zM501 666V606h1V666zM502 666V621h1V666zM503 666V620h1V666zM504 666V594h1V666zM505 666V593h1V666zM506 666V622h1V666zM507 666V622h1V666zM508 666V628h1V666zM509 666V628h1V666zM510 666V651h1V666zM511 666V650h1V666zM512 666V645h1V666zM513 666V645h1V666zM514 666V645h1V666z" fill="#008000"/>
</g>
<polyline points="0.0,653.4 10.0,651.0 28.0,645.8 33.0,645.8 51.0,652.0 66.0,654.0 92.0,649.0 114.0,651.6 142.0,654.7 160.0,654.0 170.0,651.7 188.0,653.4 200.0,651.7 213.0,649.6 231.0,654.7 257.0,653.4 287.0,654.0 302.0,657.0 310.0,656.8 321.0,654.6 332.0,650.0 350.0,648.0 359.0,650.8 372.0,643.9 386.0,644.5 392.0,650.0 403.0,652.0 415.0,649.4 428.0,647.0 439.0,648.5 448.0,643.5 458.0,639.4 466.5,632.3 472.5,623.6 480.6,617.0 485.7,613.0 492.8,611.6 499.0,614.0 507.0,612.7 511.0,618.0 514.3,620.8" fill="none" stroke="#ff0000" stroke-width="2" stroke-linejoin="round" shape-rendering="crispEdges"/>
<!-- axes -->
<g fill="#000" shape-rendering="crispEdges">
<rect x="580" y="0" width="1" height="152"/>
<rect x="580" y="156" width="1" height="370"/>
<rect x="580" y="530" width="1" height="146"/>
<rect x="580" y="5" width="4" height="1"/>
<rect x="580" y="12" width="4" height="1"/>
<rect x="580" y="20" width="4" height="1"/>
<rect x="580" y="27" width="4" height="1"/>
<rect x="580" y="35" width="4" height="1"/>
<rect x="580" y="42" width="4" height="1"/>
<rect x="580" y="49" width="4" height="1"/>
<rect x="580" y="56" width="4" height="1"/>
<rect x="580" y="63" width="4" height="1"/>
<rect x="580" y="70" width="4" height="1"/>
<rect x="580" y="77" width="4" height="1"/>
<rect x="580" y="84" width="4" height="1"/>
<rect x="580" y="91" width="4" height="1"/>
<rect x="580" y="99" width="4" height="1"/>
<rect x="580" y="106" width="4" height="1"/>
<rect x="580" y="113" width="4" height="1"/>
<rect x="580" y="120" width="4" height="1"/>
<rect x="580" y="127" width="4" height="1"/>
<rect x="580" y="135" width="4" height="1"/>
<rect x="580" y="142" width="4" height="1"/>
<rect x="580" y="149" width="4" height="1"/>
<rect x="580" y="5" width="9" height="1"/>
<rect x="580" y="42" width="9" height="1"/>
<rect x="580" y="77" width="9" height="1"/>
<rect x="580" y="113" width="9" height="1"/>
<rect x="580" y="149" width="9" height="1"/>
<rect x="580" y="508" width="4" height="1"/>
<rect x="580" y="486" width="4" height="1"/>
<rect x="580" y="463" width="4" height="1"/>
<rect x="580" y="441" width="4" height="1"/>
<rect x="580" y="418" width="4" height="1"/>
<rect x="580" y="396" width="4" height="1"/>
<rect x="580" y="374" width="4" height="1"/>
<rect x="580" y="351" width="4" height="1"/>
<rect x="580" y="329" width="4" height="1"/>
<rect x="580" y="306" width="4" height="1"/>
<rect x="580" y="284" width="4" height="1"/>
<rect x="580" y="262" width="4" height="1"/>
<rect x="580" y="239" width="4" height="1"/>
<rect x="580" y="217" width="4" height="1"/>
<rect x="580" y="194" width="4" height="1"/>
<rect x="580" y="172" width="4" height="1"/>
<rect x="580" y="497" width="9" height="1"/>
<rect x="580" y="475" width="9" height="1"/>
<rect x="580" y="452" width="9" height="1"/>
<rect x="580" y="430" width="9" height="1"/>
<rect x="580" y="407" width="9" height="1"/>
<rect x="580" y="385" width="9" height="1"/>
<rect x="580" y="362" width="9" height="1"/>
<rect x="580" y="340" width="9" height="1"/>
<rect x="580" y="318" width="9" height="1"/>
<rect x="580" y="295" width="9" height="1"/>
<rect x="580" y="273" width="9" height="1"/>
<rect x="580" y="250" width="9" height="1"/>
<rect x="580" y="228" width="5" height="1"/>
<rect x="580" y="205" width="9" height="1"/>
<rect x="580" y="183" width="9" height="1"/>
<rect x="580" y="161" width="9" height="1"/>
<rect x="580" y="520" width="9" height="1"/>
<rect x="580" y="665" width="4" height="1"/>
<rect x="580" y="659" width="4" height="1"/>
<rect x="580" y="654" width="4" height="1"/>
<rect x="580" y="648" width="4" height="1"/>
<rect x="580" y="642" width="4" height="1"/>
<rect x="580" y="636" width="4" height="1"/>
<rect x="580" y="631" width="4" height="1"/>
<rect x="580" y="625" width="4" height="1"/>
<rect x="580" y="619" width="4" height="1"/>
<rect x="580" y="613" width="4" height="1"/>
<rect x="580" y="608" width="4" height="1"/>
<rect x="580" y="602" width="4" height="1"/>
<rect x="580" y="596" width="4" height="1"/>
<rect x="580" y="590" width="4" height="1"/>
<rect x="580" y="585" width="4" height="1"/>
<rect x="580" y="579" width="4" height="1"/>
<rect x="580" y="573" width="4" height="1"/>
<rect x="580" y="567" width="4" height="1"/>
<rect x="580" y="562" width="4" height="1"/>
<rect x="580" y="556" width="4" height="1"/>
<rect x="580" y="550" width="4" height="1"/>
<rect x="580" y="544" width="4" height="1"/>
<rect x="580" y="539" width="4" height="1"/>
<rect x="580" y="533" width="4" height="1"/>
<rect x="580" y="665" width="9" height="1"/>
<rect x="580" y="636" width="9" height="1"/>
<rect x="580" y="608" width="9" height="1"/>
<rect x="580" y="579" width="9" height="1"/>
<rect x="580" y="550" width="9" height="1"/>
<rect x="0" y="675" width="581" height="1"/>
<rect x="15" y="675" width="1" height="16"/>
<rect x="41" y="675" width="1" height="16"/>
<rect x="65" y="675" width="1" height="16"/>
<rect x="93" y="675" width="1" height="16"/>
<rect x="119" y="675" width="1" height="16"/>
<rect x="148" y="675" width="1" height="16"/>
<rect x="177" y="675" width="1" height="16"/>
<rect x="230" y="675" width="1" height="16"/>
<rect x="256" y="675" width="1" height="16"/>
<rect x="285" y="675" width="1" height="16"/>
<rect x="333" y="675" width="1" height="16"/>
<rect x="359" y="675" width="1" height="16"/>
<rect x="384" y="675" width="1" height="16"/>
<rect x="410" y="675" width="1" height="16"/>
<rect x="436" y="675" width="1" height="16"/>
<rect x="466" y="675" width="1" height="16"/>
<rect x="492" y="675" width="1" height="16"/>
<rect x="519" y="675" width="1" height="16"/>
<rect x="547" y="675" width="1" height="16"/>
<rect x="573" y="675" width="1" height="16"/>
<rect x="204" y="675" width="1" height="3"/>
<rect x="307" y="675" width="1" height="3"/>
</g>
<text x="17.2" y="688.6" font-size="12" fill="#05052a">Mar</text>
<text x="43.2" y="688.6" font-size="12" fill="#05052a">Apr</text>
<text x="67.2" y="688.6" font-size="12" fill="#05052a">May</text>
<text x="95.2" y="688.6" font-size="12" fill="#05052a">Jun</text>
<text x="121.2" y="688.6" font-size="12" fill="#05052a">Jul</text>
<text x="150.2" y="688.6" font-size="12" fill="#05052a">Aug</text>
<text x="179.2" y="688.6" font-size="12" fill="#05052a">Sep</text>
<text x="232.2" y="688.6" font-size="12" fill="#05052a">Nov</text>
<text x="258.2" y="688.6" font-size="12" fill="#05052a">Dec</text>
<text x="287.2" y="688.6" font-size="12" fill="#05052a">2025</text>
<text x="335.2" y="688.6" font-size="12" fill="#05052a">Mar</text>
<text x="361.2" y="688.6" font-size="12" fill="#05052a">Apr</text>
<text x="386.2" y="688.6" font-size="12" fill="#05052a">May</text>
<text x="412.2" y="688.6" font-size="12" fill="#05052a">Jun</text>
<text x="438.2" y="688.6" font-size="12" fill="#05052a">Jul</text>
<text x="468.2" y="688.6" font-size="12" fill="#05052a">Aug</text>
<text x="494.2" y="688.6" font-size="12" fill="#05052a">Sep</text>
<text x="521.2" y="688.6" font-size="12" fill="#05052a">Oct</text>
<text x="549.2" y="688.6" font-size="12" fill="#05052a">Nov</text>
<text x="575.2" y="688.6" font-size="12" fill="#05052a">Dec</text>
<text x="626.8" y="11.6" text-anchor="end" font-size="12" fill="#05052a" letter-spacing="0.33">1000</text>
<text x="626.8" y="48.6" text-anchor="end" font-size="12" fill="#05052a" letter-spacing="0.33">500</text>
<text x="626.8" y="83.6" text-anchor="end" font-size="12" fill="#05052a" letter-spacing="0.33">0</text>
<text x="626.8" y="119.6" text-anchor="end" font-size="12" fill="#05052a" letter-spacing="0.33">-500</text>
<text x="626.8" y="503.1" text-anchor="end" font-size="12" fill="#05052a" letter-spacing="0.33">17000</text>
<text x="626.8" y="481.1" text-anchor="end" font-size="12" fill="#05052a" letter-spacing="0.33">18000</text>
<text x="626.8" y="458.1" text-anchor="end" font-size="12" fill="#05052a" letter-spacing="0.33">19000</text>
<text x="626.8" y="436.1" text-anchor="end" font-size="12" fill="#05052a" letter-spacing="0.33">20000</text>
<text x="626.8" y="413.1" text-anchor="end" font-size="12" fill="#05052a" letter-spacing="0.33">21000</text>
<text x="626.8" y="391.1" text-anchor="end" font-size="12" fill="#05052a" letter-spacing="0.33">22000</text>
<text x="626.8" y="368.1" text-anchor="end" font-size="12" fill="#05052a" letter-spacing="0.33">23000</text>
<text x="626.8" y="346.1" text-anchor="end" font-size="12" fill="#05052a" letter-spacing="0.33">24000</text>
<text x="626.8" y="324.1" text-anchor="end" font-size="12" fill="#05052a" letter-spacing="0.33">25000</text>
<text x="626.8" y="301.1" text-anchor="end" font-size="12" fill="#05052a" letter-spacing="0.33">26000</text>
<text x="626.8" y="279.1" text-anchor="end" font-size="12" fill="#05052a" letter-spacing="0.33">27000</text>
<text x="626.8" y="256.1" text-anchor="end" font-size="12" fill="#05052a" letter-spacing="0.33">28000</text>
<text x="626.8" y="234.1" text-anchor="end" font-size="12" fill="#05052a" letter-spacing="0.33">29000</text>
<text x="626.8" y="211.1" text-anchor="end" font-size="12" fill="#05052a" letter-spacing="0.33">30000</text>
<text x="626.8" y="189.1" text-anchor="end" font-size="12" fill="#05052a" letter-spacing="0.33">31000</text>
<text x="626.8" y="556.1" text-anchor="end" font-size="12" fill="#05052a" letter-spacing="0.33">20000</text>
<text x="626.8" y="585.1" text-anchor="end" font-size="12" fill="#05052a" letter-spacing="0.33">15000</text>
<text x="626.8" y="614.1" text-anchor="end" font-size="12" fill="#05052a" letter-spacing="0.33">10000</text>
<text x="626.8" y="642.1" text-anchor="end" font-size="12" fill="#05052a" letter-spacing="0.33">5000</text>
<text x="626.8" y="671.6" text-anchor="end" font-size="12" fill="#05052a" letter-spacing="0.33">0</text>
<!-- price marker -->
<rect x="585" y="229" width="44" height="16" fill="#000" shape-rendering="crispEdges"/>
<text x="586.2" y="241.2" font-size="11" fill="#ff0000">28550.00</text>
<!-- x10000 box -->
<rect x="582.5" y="662.5" width="33" height="14" fill="#fff" stroke="#000" stroke-width="1" shape-rendering="crispEdges"/>
<text x="583.8" y="672" font-size="9.4" fill="#05052a">x10000</text>
<!-- separators -->
<g shape-rendering="crispEdges">
<rect x="0" y="152" width="629" height="1" fill="#f0f0f0"/>
<rect x="0" y="154" width="629" height="1" fill="#a0a0a0"/>
<rect x="0" y="155" width="629" height="1" fill="#696969"/>
<rect x="0" y="526" width="629" height="1" fill="#f0f0f0"/>
<rect x="0" y="528" width="629" height="1" fill="#a0a0a0"/>
<rect x="0" y="529" width="629" height="1" fill="#696969"/>
<rect x="581" y="675" width="48" height="16" fill="#f0f0f0"/>
</g>
</svg>
</body></html>
